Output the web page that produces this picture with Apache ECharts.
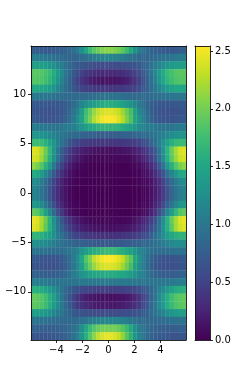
<!DOCTYPE html>
<html><head><meta charset="utf-8">
<style>html,body{margin:0;padding:0;background:#fff}#c{width:249px;height:382px;filter:blur(0.35px)}</style>
<script src="https://cdn.jsdelivr.net/npm/echarts@6/dist/echarts.min.js"></script>
</head><body><div id="c"></div>
<script>
const xRange=[-5.96,5.96];
const yRange=[-14.88,14.88];
const xTicks=[-4,-2,0,2,4];
const yTicks=[-10,-5,0,5,10];
const barTicks=[0,0.5,1,1.5,2,2.5];
const barMax=2.543;
const viridis=['#440154','#482475','#414487','#355f8d','#2a788e','#21918c','#22a884','#44bf70','#7ad151','#bddf26','#fde725'];
const seamX=[-3.2,-2.85,-2.23,-0.27,1.8,2.1,2.65,4.35,4.65];
// rows from top to bottom, columns from left to right
const grid=[
[.75,.74,.72,.70,.70,.72,.74,.76,.80,.85,.92,1.05,1.25,1.5,1.72,1.88,1.98,2.05,2.08,2.08,2.05,1.98,1.88,1.72,1.5,1.25,1.05,.92,.85,.80,.76,.74,.72,.70,.70,.72,.74,.75],
[1.05,1.05,1.03,1.0,.98,.95,.92,.88,.85,.82,.82,.85,.9,.95,1.0,1.05,1.1,1.12,1.15,1.15,1.12,1.1,1.05,1.0,.95,.9,.85,.82,.82,.85,.88,.92,.95,.98,1.0,1.03,1.05,1.05],
[1.42,1.42,1.4,1.38,1.32,1.25,1.15,1.05,.95,.85,.78,.72,.68,.65,.62,.6,.58,.58,.58,.58,.58,.58,.6,.62,.65,.68,.72,.78,.85,.95,1.05,1.15,1.25,1.32,1.38,1.4,1.42,1.42],
[1.88,1.88,1.85,1.78,1.7,1.55,1.38,1.18,1.0,.85,.7,.6,.5,.42,.38,.34,.32,.3,.3,.3,.3,.32,.34,.38,.42,.5,.6,.7,.85,1.0,1.18,1.38,1.55,1.7,1.78,1.85,1.88,1.88],
[1.85,1.85,1.82,1.75,1.65,1.5,1.32,1.12,.95,.8,.62,.5,.38,.3,.22,.18,.15,.14,.13,.13,.14,.15,.18,.22,.3,.38,.5,.62,.8,.95,1.12,1.32,1.5,1.65,1.75,1.82,1.85,1.85],
[1.52,1.52,1.5,1.45,1.38,1.28,1.15,1.02,.9,.8,.7,.6,.52,.48,.45,.42,.42,.4,.4,.4,.4,.42,.42,.45,.48,.52,.6,.7,.8,.9,1.02,1.15,1.28,1.38,1.45,1.5,1.52,1.52],
[1.02,1.02,1.0,1.0,.98,.95,.93,.9,.88,.88,.88,.88,.88,.88,.9,.92,.95,.96,.98,.98,.96,.95,.92,.9,.88,.88,.88,.88,.88,.88,.9,.93,.95,.98,1.0,1.0,1.02,1.02],
[.72,.72,.7,.7,.68,.68,.68,.72,.75,.8,.9,1.02,1.15,1.25,1.35,1.42,1.5,1.55,1.58,1.58,1.55,1.5,1.42,1.35,1.25,1.15,1.02,.9,.8,.75,.72,.68,.68,.68,.7,.7,.72,.72],
[.68,.66,.65,.62,.62,.62,.65,.68,.75,.85,1.0,1.15,1.4,1.75,1.95,2.15,2.3,2.38,2.42,2.42,2.38,2.3,2.15,1.95,1.75,1.4,1.15,1.0,.85,.75,.68,.65,.62,.62,.62,.65,.66,.68],
[.72,.7,.68,.66,.65,.65,.68,.72,.8,.9,1.05,1.25,1.45,1.8,2.0,2.25,2.4,2.5,2.54,2.54,2.5,2.4,2.25,2.0,1.8,1.45,1.25,1.05,.9,.8,.72,.68,.65,.65,.66,.68,.7,.72],
[1.05,1.05,1.03,1.0,.98,.98,.98,1.0,1.05,1.05,1.1,1.2,1.3,1.4,1.5,1.55,1.62,1.65,1.65,1.65,1.65,1.62,1.55,1.5,1.4,1.3,1.2,1.1,1.05,1.05,1.0,.98,.98,.98,1.0,1.03,1.05,1.05],
[1.3,1.3,1.28,1.22,1.18,1.1,1.05,1.0,.95,.9,.88,.85,.82,.8,.78,.78,.75,.75,.75,.75,.75,.75,.78,.78,.8,.82,.85,.88,.9,.95,1.0,1.05,1.1,1.18,1.22,1.28,1.3,1.3],
[1.72,1.72,1.7,1.6,1.45,1.28,1.1,.95,.82,.68,.58,.52,.48,.45,.42,.42,.4,.4,.4,.4,.4,.4,.42,.42,.45,.48,.52,.58,.68,.82,.95,1.1,1.28,1.45,1.6,1.7,1.72,1.72],
[2.42,2.38,2.2,1.95,1.65,1.3,1.0,.75,.58,.45,.35,.28,.22,.18,.15,.13,.12,.1,.1,.1,.1,.12,.13,.15,.18,.22,.28,.35,.45,.58,.75,1.0,1.3,1.65,1.95,2.2,2.38,2.42],
[2.38,2.34,2.15,1.9,1.6,1.25,.95,.68,.48,.35,.25,.18,.12,.08,.06,.05,.04,.04,.04,.04,.04,.04,.05,.06,.08,.12,.18,.25,.35,.48,.68,.95,1.25,1.6,1.9,2.15,2.34,2.38],
[2.1,2.02,1.85,1.6,1.35,1.0,.72,.48,.32,.2,.12,.07,.04,.02,.01,.01,.01,.01,.01,.01,.01,.01,.01,.01,.02,.04,.07,.12,.2,.32,.48,.72,1.0,1.35,1.6,1.85,2.02,2.1],
[1.55,1.5,1.35,1.15,.95,.7,.5,.35,.22,.12,.07,.03,.02,.01,.01,.01,.01,.01,.01,.01,.01,.01,.01,.01,.01,.02,.03,.07,.12,.22,.35,.5,.7,.95,1.15,1.35,1.5,1.55],
[1.22,1.18,1.05,.9,.72,.52,.36,.24,.14,.08,.04,.02,.01,0,0,0,0,0,0,0,0,0,0,0,0,.01,.02,.04,.08,.14,.24,.36,.52,.72,.9,1.05,1.18,1.22],
[1.12,1.08,.98,.82,.65,.46,.32,.2,.12,.06,.03,.01,0,0,0,0,0,0,0,0,0,0,0,0,0,0,.01,.03,.06,.12,.2,.32,.46,.65,.82,.98,1.08,1.12],
[1.12,1.08,.98,.82,.65,.46,.32,.2,.12,.06,.03,.01,0,0,0,0,0,0,0,0,0,0,0,0,0,0,.01,.03,.06,.12,.2,.32,.46,.65,.82,.98,1.08,1.12],
[1.35,1.3,1.18,1.0,.8,.58,.4,.26,.15,.08,.04,.02,.01,0,0,0,0,0,0,0,0,0,0,0,0,.01,.02,.04,.08,.15,.26,.4,.58,.8,1.0,1.18,1.3,1.35],
[1.92,1.86,1.68,1.42,1.15,.85,.6,.4,.25,.14,.08,.04,.02,.01,.01,.01,.01,.01,.01,.01,.01,.01,.01,.01,.01,.02,.04,.08,.14,.25,.4,.6,.85,1.15,1.42,1.68,1.86,1.92],
[2.45,2.4,2.2,1.95,1.62,1.25,.95,.68,.48,.35,.25,.18,.12,.08,.06,.05,.04,.04,.04,.04,.04,.04,.05,.06,.08,.12,.18,.25,.35,.48,.68,.95,1.25,1.62,1.95,2.2,2.4,2.45],
[2.42,2.36,2.18,1.9,1.6,1.3,1.0,.78,.6,.46,.36,.28,.22,.18,.15,.13,.12,.11,.1,.1,.11,.12,.13,.15,.18,.22,.28,.36,.46,.6,.78,1.0,1.3,1.6,1.9,2.18,2.36,2.42],
[1.65,1.65,1.6,1.5,1.4,1.25,1.08,.92,.8,.65,.55,.5,.45,.42,.4,.38,.36,.35,.35,.35,.35,.36,.38,.4,.42,.45,.5,.55,.65,.8,.92,1.08,1.25,1.4,1.5,1.6,1.65,1.65],
[1.25,1.25,1.22,1.18,1.12,1.05,1.0,.95,.9,.85,.82,.8,.78,.76,.74,.72,.72,.7,.7,.7,.7,.72,.72,.74,.76,.78,.8,.82,.85,.9,.95,1.0,1.05,1.12,1.18,1.22,1.25,1.25],
[.98,.98,.96,.95,.92,.9,.9,.9,.95,1.0,1.05,1.15,1.3,1.4,1.5,1.58,1.62,1.68,1.7,1.7,1.68,1.62,1.58,1.5,1.4,1.3,1.15,1.05,1.0,.95,.9,.9,.9,.92,.95,.96,.98,.98],
[.72,.7,.68,.66,.65,.65,.68,.72,.8,.9,1.05,1.25,1.5,1.85,2.05,2.3,2.42,2.5,2.54,2.54,2.5,2.42,2.3,2.05,1.85,1.5,1.25,1.05,.9,.8,.72,.68,.65,.65,.66,.68,.7,.72],
[.68,.66,.64,.62,.62,.62,.65,.7,.75,.88,1.02,1.2,1.42,1.75,1.95,2.15,2.3,2.38,2.42,2.42,2.38,2.3,2.15,1.95,1.75,1.42,1.2,1.02,.88,.75,.7,.65,.62,.62,.62,.64,.66,.68],
[.8,.78,.76,.74,.74,.74,.76,.8,.85,.95,1.05,1.15,1.28,1.38,1.45,1.5,1.52,1.55,1.55,1.55,1.55,1.52,1.5,1.45,1.38,1.28,1.15,1.05,.95,.85,.8,.76,.74,.74,.74,.76,.78,.8],
[1.08,1.08,1.06,1.03,1.0,1.0,.98,.98,.98,.98,.98,1.0,1.02,1.02,1.02,1.02,1.02,1.02,1.02,1.02,1.02,1.02,1.02,1.02,1.02,1.02,1.0,.98,.98,.98,.98,.98,1.0,1.0,1.03,1.06,1.08,1.08],
[1.6,1.58,1.55,1.45,1.35,1.22,1.1,.98,.85,.75,.68,.62,.55,.52,.5,.48,.48,.46,.46,.46,.46,.48,.48,.5,.52,.55,.62,.68,.75,.85,.98,1.1,1.22,1.35,1.45,1.55,1.58,1.6],
[1.92,1.9,1.85,1.75,1.58,1.4,1.2,1.0,.82,.65,.5,.38,.28,.2,.17,.14,.12,.11,.1,.1,.11,.12,.14,.17,.2,.28,.38,.5,.65,.82,1.0,1.2,1.4,1.58,1.75,1.85,1.9,1.92],
[1.9,1.88,1.82,1.72,1.58,1.38,1.2,1.02,.85,.7,.55,.42,.35,.28,.24,.2,.18,.17,.17,.17,.17,.18,.2,.24,.28,.35,.42,.55,.7,.85,1.02,1.2,1.38,1.58,1.72,1.82,1.88,1.9],
[1.4,1.4,1.38,1.32,1.25,1.15,1.05,.98,.88,.8,.72,.68,.65,.62,.6,.6,.58,.58,.58,.58,.58,.58,.6,.6,.62,.65,.68,.72,.8,.88,.98,1.05,1.15,1.25,1.32,1.38,1.4,1.4],
[.98,.98,.95,.95,.92,.9,.88,.85,.85,.85,.88,.9,.95,1.0,1.05,1.1,1.12,1.15,1.15,1.15,1.15,1.12,1.1,1.05,1.0,.95,.9,.88,.85,.85,.85,.88,.9,.92,.95,.95,.98,.98],
[.78,.78,.76,.75,.75,.75,.76,.8,.82,.88,.95,1.05,1.25,1.5,1.7,1.85,1.95,2.0,2.0,2.0,2.0,1.95,1.85,1.7,1.5,1.25,1.05,.95,.88,.82,.8,.76,.75,.75,.75,.76,.78,.78],
[.68,.68,.66,.66,.68,.7,.72,.75,.78,.85,.95,1.1,1.3,1.6,1.85,2.1,2.3,2.4,2.45,2.45,2.4,2.3,2.1,1.85,1.6,1.3,1.1,.95,.85,.78,.75,.72,.7,.68,.66,.66,.68,.68]
];
const nRows=grid.length,nCols=grid[0].length;
const dx=(xRange[1]-xRange[0])/nCols,dy=(yRange[1]-yRange[0])/nRows;
const cells=[];
grid.forEach((row,r)=>row.forEach((v,c)=>cells.push([xRange[0]+(c+.5)*dx,yRange[1]-(r+.5)*dy,v])));
const ink='#111';
const font={fontFamily:'DejaVu Sans',fontSize:10,color:'#000',margin:5};
const minusFmt=v=>String(v).replace('-','\u2212');
const frame=(extra)=>Object.assign({axisLine:{show:true,onZero:false,lineStyle:{color:ink,width:0.9}},axisTick:{show:false},axisLabel:{show:false},splitLine:{show:false},z:10},extra);
const chart=echarts.init(document.getElementById('c'),null,{renderer:'canvas',width:249,height:382});
chart.setOption({
 animation:false,
 backgroundColor:'#fff',
 grid:[{left:31,top:46,width:155,height:294},{left:195,top:46,width:15,height:294}],
 visualMap:{show:false,seriesIndex:0,dimension:2,min:0,max:barMax,inRange:{color:viridis}},
 xAxis:[
  frame({type:'value',gridIndex:0,position:'bottom',min:xRange[0],max:xRange[1],
   axisTick:{show:true,length:3,lineStyle:{color:ink,width:0.9},customValues:xTicks},
   axisLabel:Object.assign({show:true,customValues:xTicks,formatter:minusFmt},font)}),
  frame({type:'value',gridIndex:0,position:'top',min:xRange[0],max:xRange[1]}),
  frame({type:'value',gridIndex:1,position:'bottom',min:0,max:1}),
  frame({type:'value',gridIndex:1,position:'top',min:0,max:1})
 ],
 yAxis:[
  frame({type:'value',gridIndex:0,position:'left',min:yRange[0],max:yRange[1],
   axisTick:{show:true,length:3,lineStyle:{color:ink,width:0.9},customValues:yTicks},
   axisLabel:Object.assign({show:true,customValues:yTicks,formatter:minusFmt},font)}),
  frame({type:'value',gridIndex:0,position:'right',min:yRange[0],max:yRange[1]}),
  frame({type:'value',gridIndex:1,position:'right',min:0,max:barMax,
   axisTick:{show:true,length:3,lineStyle:{color:ink,width:0.9},customValues:barTicks},
   axisLabel:Object.assign({show:true,customValues:barTicks,formatter:v=>v.toFixed(1)},font)}),
  frame({type:'value',gridIndex:1,position:'left',min:0,max:barMax})
 ],
 series:[
  {type:'custom',xAxisIndex:0,yAxisIndex:0,data:cells,encode:{x:0,y:1},silent:true,clip:true,
   renderItem:(p,api)=>{
    const a=api.coord([api.value(0)-dx/2,api.value(1)+dy/2]),b=api.coord([api.value(0)+dx/2,api.value(1)-dy/2]);
    return {type:'rect',shape:{x:a[0],y:a[1],width:b[0]-a[0]+.3,height:b[1]-a[1]+.3},style:{fill:api.visual('color')}};
   },
   markLine:{silent:true,symbol:'none',label:{show:false},animation:false,lineStyle:{color:'rgba(255,255,255,0.07)',width:1,type:'solid'},data:seamX.map(v=>({xAxis:v}))}
  },
  {type:'custom',xAxisIndex:2,yAxisIndex:2,data:[[0,0,1,barMax]],silent:true,clip:true,
   encode:{x:[0,2],y:[1,3]},
   renderItem:(p,api)=>{
    const a=api.coord([api.value(0),api.value(3)]),b=api.coord([api.value(2),api.value(1)]);
    return {type:'rect',shape:{x:a[0],y:a[1],width:b[0]-a[0],height:b[1]-a[1]},
     style:{fill:new echarts.graphic.LinearGradient(0,1,0,0,viridis.map((c,i)=>({offset:i/(viridis.length-1),color:c})))}};
   }}
 ]
});
</script></body></html>
